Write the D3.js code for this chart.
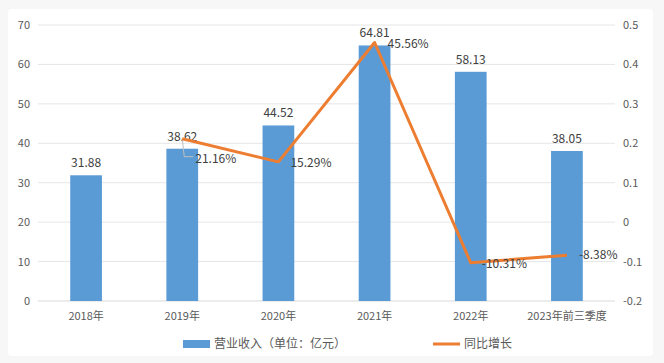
<!DOCTYPE html>
<html lang="zh">
<head>
<meta charset="UTF-8">
<title>营业收入与同比增长</title>
<script src="https://d3js.org/d3.v7.min.js"></script>
<style>
  body { margin: 0; background: #f7f7f7; }
  svg { display: block; font-family: "Noto Sans CJK SC", "Noto Sans", sans-serif; }
</style>
</head>
<body>
<div id="chart"></div>
<script>
// data
const categories = ["2018年", "2019年", "2020年", "2021年", "2022年", "2023年前三季度"];
const revenue = [31.88, 38.62, 44.52, 64.81, 58.13, 38.05];
const growth = [null, 0.2116, 0.1529, 0.4556, -0.1031, -0.0838];
const growthLabels = [null, "21.16%", "15.29%", "45.56%", "-10.31%", "-8.38%"];
const leftTicks = [0, 10, 20, 30, 40, 50, 60, 70];
const rightTicks = [-0.2, -0.1, 0, 0.1, 0.2, 0.3, 0.4, 0.5];

const W = 664, H = 363;
const margin = { top: 25, right: 49, bottom: 62, left: 38 };
const width = W - margin.left - margin.right;
const height = H - margin.top - margin.bottom;

const svg = d3.select("#chart").append("svg")
    .attr("width", W).attr("height", H);

// white chart area
svg.append("rect")
    .attr("x", 8).attr("y", 9).attr("width", 645).attr("height", 347)
    .attr("rx", 4).attr("fill", "#fff");

const g = svg.append("g").attr("transform", `translate(${margin.left},${margin.top})`);

const x = d3.scaleBand().domain(categories).range([0, width]).paddingInner(0.67).paddingOuter(0.335);
const yL = d3.scaleLinear().domain([0, 70]).range([height, 0]);
const yR = d3.scaleLinear().domain([-0.2, 0.5]).range([height, 0]);
const cx = d => x(d) + x.bandwidth() / 2;

// gridlines
g.selectAll(".grid").data(leftTicks).enter().append("line")
    .attr("x1", 0).attr("x2", width)
    .attr("y1", d => yL(d)).attr("y2", d => yL(d))
    .attr("stroke", d => d === 0 ? "#d9d9d9" : "#e6e6e6").attr("stroke-width", 1);

// left axis
const axL = g.append("g").call(d3.axisLeft(yL).tickValues(leftTicks).tickSize(0).tickPadding(8));
axL.select(".domain").remove();
axL.selectAll("text").attr("fill", "#595959").style("font-size", "11px").style("font-family", "Noto Sans CJK SC, sans-serif");

// right axis
const axR = g.append("g").attr("transform", `translate(${width},0)`)
    .call(d3.axisRight(yR).tickValues(rightTicks).tickSize(0).tickPadding(8).tickFormat(d => String(+d.toFixed(1))));
axR.select(".domain").remove();
axR.selectAll("text").attr("fill", "#595959").style("font-size", "11px").style("font-family", "Noto Sans CJK SC, sans-serif");

// x axis
const axX = g.append("g").attr("transform", `translate(0,${height})`)
    .call(d3.axisBottom(x).tickSize(0).tickPadding(11));
axX.select(".domain").remove();
axX.selectAll("text").attr("fill", "#595959").style("font-size", "11px").style("font-family", "Noto Sans CJK SC, sans-serif");

// bars
g.selectAll(".bar").data(categories).enter().append("rect")
    .attr("x", d => x(d)).attr("width", x.bandwidth())
    .attr("y", (d, i) => yL(revenue[i])).attr("height", (d, i) => height - yL(revenue[i]))
    .attr("fill", "#5b9bd5");

// bar labels
g.selectAll(".blabel").data(categories).enter().append("text")
    .attr("x", d => cx(d)).attr("y", (d, i) => yL(revenue[i]) - 8)
    .attr("text-anchor", "middle").attr("fill", "#404040")
    .style("font-size", "12px")
    .text((d, i) => revenue[i].toFixed(2));

// growth line
const pts = categories.map((c, i) => ({ c, v: growth[i], label: growthLabels[i] })).filter(d => d.v !== null);

// leader line for 2019 label
const p19 = pts[0];
g.append("polyline")
    .attr("points", [[cx(p19.c), yR(p19.v)], [cx(p19.c) + 2, yR(p19.v) + 18], [cx(p19.c) + 11, yR(p19.v) + 18]].map(p => p.join(",")).join(" "))
    .attr("fill", "none").attr("stroke", "#bfbfbf").attr("stroke-width", 1);

g.append("path").datum(pts)
    .attr("d", d3.line().x(d => cx(d.c)).y(d => yR(d.v)))
    .attr("fill", "none").attr("stroke", "#ed7d31").attr("stroke-width", 3).attr("stroke-linejoin", "round");

const labelOffsets = [[13, 24], [12, 5], [13, 5], [11, 5], [12, 4]];
g.selectAll(".glabel").data(pts).enter().append("text")
    .attr("x", (d, i) => cx(d.c) + labelOffsets[i][0])
    .attr("y", (d, i) => yR(d.v) + labelOffsets[i][1])
    .attr("fill", "#404040")
    .style("font-size", "12px")
    .text(d => d.label);

// legend
const lg = svg.append("g").attr("transform", "translate(0,344)");
lg.append("rect").attr("x", 183).attr("y", -4).attr("width", 27).attr("height", 8).attr("fill", "#5b9bd5");
lg.append("text").attr("x", 214).attr("y", 4).attr("fill", "#595959").style("font-size", "12px").text("营业收入（单位：亿元）");
lg.append("line").attr("x1", 433).attr("x2", 460).attr("y1", 0).attr("y2", 0).attr("stroke", "#ed7d31").attr("stroke-width", 3);
lg.append("text").attr("x", 464).attr("y", 4).attr("fill", "#595959").style("font-size", "12px").text("同比增长");
</script>
</body>
</html>
